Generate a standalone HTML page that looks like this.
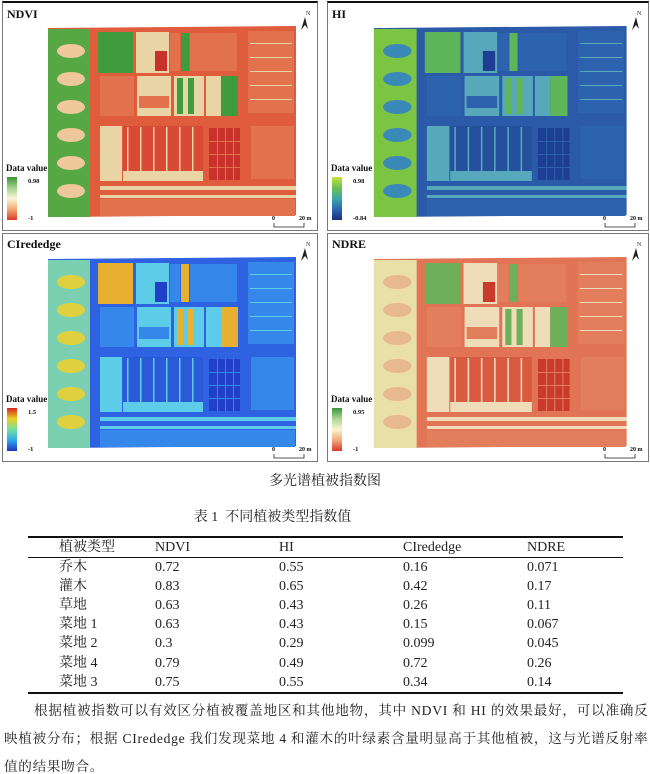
<!DOCTYPE html>
<html><head><meta charset="utf-8">
<style>
html,body{margin:0;padding:0;background:#fff;width:650px;height:774px;overflow:hidden;position:relative;font-family:"Liberation Serif","Noto Serif CJK SC",serif;}
.p{position:absolute;border:1px solid #777;background:#fff;overflow:hidden}
.t{position:absolute;white-space:nowrap;color:#222;line-height:18px}
</style></head><body>
<div class="p" id="p0" style="left:2px;top:1px;width:314px;height:227px;border-top:2px solid #111"></div>
<div class="p" id="p1" style="left:327px;top:1px;width:320px;height:227px;border-top:2px solid #111"></div>
<div class="p" id="p2" style="left:2px;top:233px;width:314px;height:227px"></div>
<div class="p" id="p3" style="left:327px;top:233px;width:320px;height:227px"></div>

<div class="t" style="left:0;width:650px;text-align:center;top:473px;font-size:14px">多光谱植被指数图</div>
<div class="t" style="left:0;width:545px;text-align:center;top:509px;font-size:14px">表 1&nbsp; 不同植被类型指数值</div>

<div style="position:absolute;left:28px;top:536px;width:595px;height:1.5px;background:#111"></div>
<div style="position:absolute;left:28px;top:557px;width:595px;height:1px;background:#111"></div>
<div style="position:absolute;left:28px;top:692px;width:595px;height:1.5px;background:#111"></div>
<div id="tbl"></div>

<div class="t" style="left:34px;top:702px;font-size:13.6px;letter-spacing:0.75px">根据植被指数可以有效区分植被覆盖地区和其他地物，其中 NDVI 和 HI 的效果最好，可以准确反</div>
<div class="t" style="left:4px;top:730px;font-size:13.6px;letter-spacing:0.7px">映植被分布；根据 CIrededge 我们发现菜地 4 和灌木的叶绿素含量明显高于其他植被，这与光谱反射率</div>
<div class="t" style="left:4px;top:758px;font-size:13.6px;letter-spacing:0.7px">值的结果吻合。</div>

<script>
var rows=[["植被类型","NDVI","HI","CIrededge","NDRE"],["乔木","0.72","0.55","0.16","0.071"],["灌木","0.83","0.65","0.42","0.17"],["草地","0.63","0.43","0.26","0.11"],["菜地 1","0.63","0.43","0.15","0.067"],["菜地 2","0.3","0.29","0.099","0.045"],["菜地 4","0.79","0.49","0.72","0.26"],["菜地 3","0.75","0.55","0.34","0.14"]];
var xs=[59,155,279,403,527],ys=[539,559,578,597,616,635,655,674],h="";
rows.forEach(function(r,i){r.forEach(function(c,j){h+='<div class="t" style="left:'+xs[j]+'px;top:'+ys[i]+'px;font-size:14px">'+c+'</div>';});});
document.getElementById("tbl").innerHTML=h;

var P=[
 {n:"NDVI",mx:"0.98",mn:"-1",road:"#df5c3c",tree:"#55a843",tb:"#eec89a",g:"#3f9c3c",l:"#e9d4a6",f:"#e2714e",d:"#c9322a",s:"#d84a34",cb:["#3b943a","#9fd08a","#fdf8d8","#f2a870","#d83a2a"]},
 {n:"HI",mx:"0.98",mn:"-0.84",road:"#2a5aa8",tree:"#7cc444",tb:"#3a8ab8",g:"#5fb65a",l:"#58a8bc",f:"#2c62ae",d:"#1d3e92",s:"#24509e",cb:["#c8e03a","#6cc050","#3aa8a8","#2a68b0","#1a2c80"]},
 {n:"CIrededge",mx:"1.5",mn:"-1",road:"#2f62e0",tree:"#7ad0b0",tb:"#e0d040",g:"#e8b030",l:"#5ccce8",f:"#3588ea",d:"#2040c8",s:"#2a5ad8",cb:["#d82020","#f0d020","#70e0a0","#30a8f0","#2030c0"]},
 {n:"NDRE",mx:"0.95",mn:"-1",road:"#e07454",tree:"#e8e0a8",tb:"#e8b890",g:"#6eb05a",l:"#efdcb8",f:"#e27e5c",d:"#c93a2c",s:"#d85a40",cb:["#3a943a","#a8d890","#fcf4d0","#f0a878","#d83a2a"]}
];
P.forEach(function(c,i){
 var W=i%2?320:314,sx=W/314;
 function R(x,y,w,hh,col){return '<rect x="'+x+'" y="'+y+'" width="'+w+'" height="'+hh+'" fill="'+col+'"/>';}
 var s='<svg width="'+W+'" height="227" xmlns="http://www.w3.org/2000/svg"><g transform="scale('+sx+',1)">';
 s+='<polygon points="45,25 293,23 293,212 53,214" fill="'+c.road+'"/>';
 s+=R(45,26,42,188,c.tree);
 for(var k=0;k<6;k++){s+='<ellipse cx="68" cy="'+(48+k*28)+'" rx="14" ry="7" fill="'+c.tb+'"/>';}
 s+=R(95,29,35,41,c.g)+R(133,29,33,41,c.l)+R(152,48,12,20,c.d)+R(167,30,10,38,c.f)+R(178,30,8,38,c.g)+R(187,30,47,38,c.f);
 s+=R(245,28,46,82,c.f);
 s+=R(97,73,34,40,c.f)+R(134,73,34,40,c.l)+R(136,93,30,12,c.f)+R(171,73,30,40,c.l)+R(174,75,6,36,c.g)+R(185,75,6,36,c.g)+R(203,73,15,40,c.l)+R(218,73,17,40,c.g);
 for(var k=0;k<5;k++)s+=R(247,40+k*14,42,1,c.l);
 s+=R(97,123,22,55,c.l)+R(120,123,80,45,c.s)+R(120,168,80,10,c.l);
 for(var k=0;k<6;k++)s+=R(124+k*13,124,1.5,44,c.l);
 s+=R(206,125,31,52,c.d);
 for(var k=1;k<4;k++){s+=R(206+k*8,125,1,52,c.f);s+=R(206,125+k*13,31,1,c.f);}
 s+=R(248,123,43,53,c.f);
 s+=R(97,183,196,4,c.l)+R(97,192,196,3,c.l)+R(97,196,195,17,c.f);
 s+='</g>';
 s+='<defs><linearGradient id="g'+i+'" x1="0" y1="0" x2="0" y2="1">';
 c.cb.forEach(function(col,j){s+='<stop offset="'+(j/4)+'" stop-color="'+col+'"/>';});
 s+='</linearGradient></defs>';
 s+='<text x="4" y="'+(i<2?15:14)+'" font-family="Liberation Serif" font-weight="bold" font-size="12" fill="#111">'+c.n+'</text>';
 s+='<text x="3" y="168" font-family="Liberation Serif" font-weight="bold" font-size="9" fill="#111">Data value</text>';
 s+='<rect x="4" y="174" width="10" height="43" fill="url(#g'+i+')"/>';
 s+='<text x="25" y="180" font-family="Liberation Serif" font-weight="bold" font-size="6.5" fill="#111">'+c.mx+'</text>';
 s+='<text x="25" y="217" font-family="Liberation Serif" font-weight="bold" font-size="6.5" fill="#111">'+c.mn+'</text>';
 var bx=W-43;
 s+='<text x="'+(bx-2)+'" y="217" font-family="Liberation Serif" font-weight="bold" font-size="6" fill="#111">0</text>';
 s+='<text x="'+(bx+25)+'" y="217" font-family="Liberation Serif" font-weight="bold" font-size="6" fill="#111">20 m</text>';
 s+='<path d="M'+bx+' 220 V224 H'+(bx+30)+' V220" stroke="#222" stroke-width="0.8" fill="none"/>';
 var nx=W-12;
 s+='<path d="M'+nx+' 14 L'+(nx+3)+' 26 L'+nx+' 22 L'+(nx-4)+' 27 Z" fill="#222"/>';
 s+='<text x="'+(nx+1)+'" y="12" font-family="Liberation Serif" font-size="6" fill="#222">N</text>';
 s+='</svg>';
 document.getElementById("p"+i).innerHTML=s;
});
</script>
</body></html>
